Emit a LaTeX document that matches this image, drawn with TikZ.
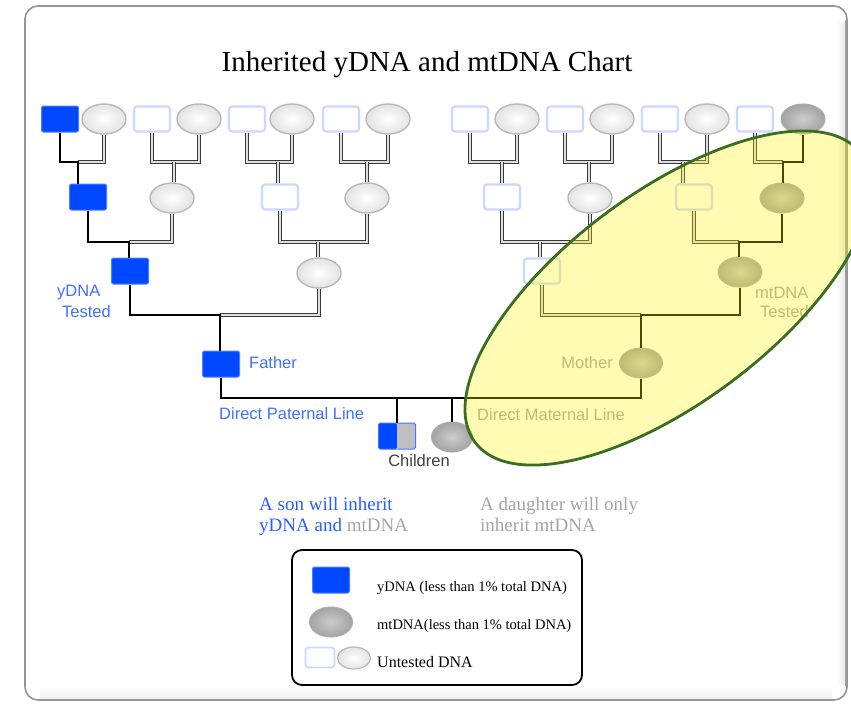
\documentclass[tikz,border=0pt]{standalone}
\usepackage{fontspec}
\setmainfont{Liberation Serif}
\newfontfamily\labsans{Liberation Sans}
\usetikzlibrary{shapes.geometric}
\definecolor{ybl}{RGB}{0,72,255}
\definecolor{labblue}{RGB}{64,112,255}
\definecolor{txtblue}{RGB}{40,95,255}
\definecolor{untb}{RGB}{205,215,255}
\definecolor{ovgreen}{RGB}{58,110,35}
\definecolor{framegray}{RGB}{150,150,150}
\definecolor{lgray}{RGB}{165,165,165}
\begin{document}
\begin{tikzpicture}[x=1pt,y=-1pt]
\tikzset{
 ybox/.style={rectangle, fill=ybl, draw=ybl!70!white, line width=1pt, rounded corners=2pt, minimum width=37pt, minimum height=26pt, inner sep=0pt},
 ubox/.style={rectangle, fill=white, draw=untb, line width=2.2pt, rounded corners=3pt, minimum width=36pt, minimum height=25pt, inner sep=0pt},
 wel/.style={ellipse, draw=gray!55, line width=1.4pt, inner color=white, outer color=gray!22, minimum width=44pt, minimum height=30pt, inner sep=0pt},
 gel/.style={ellipse, draw=gray!65, line width=1pt, inner color=gray!40, outer color=gray!72, minimum width=44pt, minimum height=30pt, inner sep=0pt},
 bl/.style={draw=black, line width=2.7pt},
 gl/.style={draw=gray!45!black, line width=0.9pt, double=gray!25, double distance=1.3pt},
 slab/.style={font=\labsans\fontsize{16.5}{18}\selectfont, inner sep=0pt},
 legtxt/.style={font=\fontsize{14.5}{16}\selectfont, inner sep=0pt, anchor=west},
}
\useasboundingbox (0,0) rectangle (851,704);
% frame
\draw[framegray, line width=1.6pt, rounded corners=13pt, fill=white] (25,6) rectangle (847,700);
\shade[top color=white, bottom color=gray!14] (40,687) rectangle (832,698.5);
\shade[left color=white, right color=gray!20] (837,22) rectangle (845.8,684);
\draw[gray!70, line width=1.2pt] (845.4,20) -- (845.4,686);

% title
\node[font=\fontsize{29}{32}\selectfont, inner sep=0pt] (title) at (427,65) {Inherited yDNA and mtDNA Chart};

% generation 4
\node[ybox] (g4a) at (60,119) {};
\node[wel]  (g4b) at (104,119) {};
\node[ubox] (g4c) at (152,119) {};
\node[wel]  (g4d) at (199,119) {};
\node[ubox] (g4e) at (247,119) {};
\node[wel]  (g4f) at (292,119) {};
\node[ubox] (g4g) at (341,119) {};
\node[wel]  (g4h) at (388,119) {};
\node[ubox] (g4i) at (470,119) {};
\node[wel]  (g4j) at (517,119) {};
\node[ubox] (g4k) at (565,119) {};
\node[wel]  (g4l) at (612,119) {};
\node[ubox] (g4m) at (660,119) {};
\node[wel]  (g4n) at (707,119) {};
\node[ubox] (g4o) at (755,119) {};
\node[gel]  (g4p) at (803,119) {};

% generation 3
\node[ybox] (g3a) at (88,197) {};
\node[wel]  (g3b) at (172,198) {};
\node[ubox] (g3c) at (280,197) {};
\node[wel]  (g3d) at (367,198) {};
\node[ubox] (g3e) at (502,197) {};
\node[wel]  (g3f) at (590,198) {};
\node[ubox] (g3g) at (694,197) {};
\node[gel]  (g3h) at (782,198) {};

% generation 2
\node[ybox] (g2a) at (130,271) {};
\node[wel]  (g2b) at (319,273) {};
\node[ubox] (g2c) at (542,271) {};
\node[gel]  (g2d) at (740,272) {};

% parents
\node[ybox] (fa) at (221,364) {};
\node[gel, minimum width=43pt] (mo) at (641,363) {};

% children
\node[rectangle, draw=ybl!75!white, line width=1pt, rounded corners=1.5pt, minimum width=37pt, minimum height=26pt, inner sep=0pt,
  path picture={\fill[ybl] (path picture bounding box.south west) rectangle (path picture bounding box.north);
                \fill[gray!50] (path picture bounding box.south) rectangle (path picture bounding box.north east);}] (son) at (397,436) {};
\node[gel, minimum width=41pt] (da) at (452,437) {};

% connectors gen4 -> gen3
\coordinate (j41) at (78,162);
\coordinate (j42) at (174,162);
\coordinate (j43) at (278,162);
\coordinate (j44) at (367,162);
\coordinate (j45) at (502,162);
\coordinate (j46) at (589,162);
\coordinate (j47) at (683,162);
\coordinate (j48) at (783,162);
\draw[gl] (j41) -| (g4b.south);
\draw[bl] (g4a.south) |- (j41) -- (j41 |- g3a.north);
\draw[gl] (g4c.south) |- (j42) -| (g4d.south); \draw[gl] (j42) -- (j42 |- g3b.north);
\draw[gl] (g4e.south) |- (j43) -| (g4f.south); \draw[gl] (j43) -- (j43 |- g3c.north);
\draw[gl] (g4g.south) |- (j44) -| (g4h.south); \draw[gl] (j44) -- (j44 |- g3d.north);
\draw[gl] (g4i.south) |- (j45) -| (g4j.south); \draw[gl] (j45) -- (j45 |- g3e.north);
\draw[gl] (g4k.south) |- (j46) -| (g4l.south); \draw[gl] (j46) -- (j46 |- g3f.north);
\draw[gl] (g4m.south) |- (j47) -| (g4n.south); \draw[gl] (j47) -- (j47 |- g3g.north);
\draw[gl] (g4o.south) |- (j48);
\draw[bl] (g4p.south) |- (j48) -- (j48 |- g3h.north);

% gen3 -> gen2
\coordinate (j31) at (129,242);
\coordinate (j32) at (318,242);
\coordinate (j33) at (540,242);
\coordinate (j34) at (739,242);
\draw[gl] (j31) -| (g3b.south);
\draw[bl] (g3a.south) |- (j31) -- (j31 |- g2a.north);
\draw[gl] (g3c.south) |- (j32) -| (g3d.south); \draw[gl] (j32) -- (j32 |- g2b.north);
\draw[gl] (g3e.south) |- (j33) -| (g3f.south); \draw[gl] (j33) -- (j33 |- g2c.north);
\draw[gl] (g3g.south) |- (j34);
\draw[bl] (g3h.south) |- (j34) -- (j34 |- g2d.north);

% gen2 -> parents
\coordinate (j21) at (220,315);
\coordinate (j22) at (641,315);
\draw[gl] (j21) -| (g2b.south);
\draw[bl] (g2a.south) |- (j21) -- (j21 |- fa.north);
\draw[gl] (g2c.south) |- (j22);
\draw[bl] (g2d.south) |- (j22) -- (j22 |- mo.north);

% parents -> children
\coordinate (busy) at (0,398);
\draw[bl] (fa.south) |- (mo.south |- busy) -- (mo.south);
\draw[bl] (son.north |- busy) -- (son.north);
\draw[bl] (da.north |- busy) -- (da.north);

% labels
\node[slab, text=labblue, anchor=west] (ly1) at (57,293) {yDNA};
\node[slab, text=labblue, anchor=west] (ly2) at (62,312) {Tested};
\node[slab, text=labblue, anchor=west] (lfa) at (249,363) {Father};
\node[slab, text=labblue, anchor=west] (lpat) at (219,414) {Direct Paternal Line};
\node[slab, text=lgray, anchor=east] (lmo) at (613,363) {Mother};
\node[slab, text=lgray, anchor=west] (lm1) at (755,293) {mtDNA};
\node[slab, text=lgray, anchor=west] (lm2) at (760,312) {Tested};
\node[slab, text=lgray, anchor=west] (lmat) at (477,415) {Direct Maternal Line};
\node[slab, text=black!75] (lch) at (419,461) {Children};

% inheritance notes
\node[font=\fontsize{19}{21}\selectfont, align=left, anchor=north west, inner sep=0pt] (sonnote) at (259,497)
  {\textcolor{txtblue}{A son will inherit}\\\textcolor{txtblue}{yDNA and} \textcolor{lgray}{mtDNA}};
\node[font=\fontsize{19}{21}\selectfont, align=left, anchor=north west, inner sep=0pt, text=lgray] (daunote) at (480,497)
  {A daughter will only\\inherit mtDNA};

% legend
\node[draw=black, line width=1.8pt, rounded corners=10pt, minimum width=290pt, minimum height=135pt, inner sep=0pt] (legend) at (437,617.5) {};
\node[ybox] (legy) at (331,580) {};
\node[gel, minimum width=43pt] (legm) at (331,622) {};
\node[ubox, minimum width=29pt, minimum height=20pt, line width=1.8pt] (legur) at (320,657.5) {};
\node[wel, minimum width=33pt, minimum height=22pt, line width=1.2pt] (legue) at (354,658) {};
\node[legtxt] (legyt) at (377,588) {yDNA (less than 1\% total DNA)};
\node[legtxt] (legmt) at (377,626) {mtDNA(less than 1\% total DNA)};
\node[legtxt, font=\fontsize{16}{18}\selectfont] (legut) at (377,662) {Untested DNA};

% highlight overlay for the direct maternal line
\fill[yellow, fill opacity=0.3, rotate around={36.8:(668,298)}] (668,298) ellipse (241pt and 105pt);
\draw[ovgreen, line width=2.8pt, rotate around={36.8:(668,298)}] (668,298) ellipse (241pt and 105pt);
\end{tikzpicture}
\end{document}
